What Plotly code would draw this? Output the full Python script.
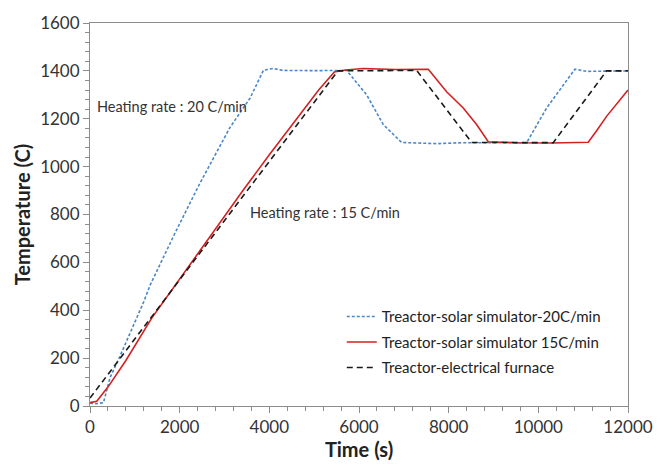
import plotly.graph_objects as go

# Solar simulator run at 20 C/min
t_solar20 = [0, 150, 300, 450, 650, 1200, 1340, 1900, 2450, 3120, 3570, 3870, 4090, 4300,
             5000, 5725, 6170, 6540, 6950, 7300, 7730, 8300, 9000, 9740, 10185, 10600,
             10816, 11076, 11500, 12000]
T_solar20 = [12, 10, 14, 120, 200, 436, 505, 724, 930, 1163, 1286, 1403, 1410, 1402,
             1401, 1402, 1300, 1176, 1101, 1098, 1096, 1100, 1100, 1100, 1245, 1350,
             1407, 1398, 1400, 1400]

# Solar simulator run at 15 C/min
t_solar15 = [0, 150, 400, 800, 1376, 2300, 3419, 4000, 4609, 5100, 5450, 5700, 6090, 6800,
             7545, 7954, 8325, 8623, 8883, 9500, 10300, 11113, 11300, 11522, 12000]
T_solar15 = [14, 20, 79, 190, 367, 610, 902, 1050, 1200, 1320, 1395, 1404, 1410, 1406,
             1407, 1313, 1245, 1176, 1104, 1100, 1099, 1102, 1150, 1210, 1320]

# Electrical furnace reference run
t_furnace = [0, 5530, 7286, 8512, 10333, 11522, 12000]
T_furnace = [33, 1400, 1402, 1101, 1100, 1400, 1400]

fig = go.Figure()
fig.add_trace(go.Scatter(x=t_solar20, y=T_solar20, mode="lines",
                         name="Treactor-solar simulator-20C/min", legendgroup="a",
                         line=dict(color="#4a86c8", width=1.6, dash="3px,2px")))
fig.add_trace(go.Scatter(x=t_solar15, y=T_solar15, mode="lines",
                         name="Treactor-solar simulator 15C/min", legendgroup="b",
                         line=dict(color="#d42020", width=1.6)))
fig.add_trace(go.Scatter(x=t_furnace, y=T_furnace, mode="lines",
                         name="Treactor-electrical furnace", legendgroup="c",
                         line=dict(color="#1a1a1a", width=1.6, dash="6px,4px")))

fig.add_annotation(x=112, y=1250, text="Heating rate : 20 C/min", showarrow=False,
                   xanchor="left", yanchor="middle",
                   font=dict(family="Lato", size=14.5, color="#333333"))
fig.add_annotation(x=3523, y=810, text="Heating rate : 15 C/min", showarrow=False,
                   xanchor="left", yanchor="middle",
                   font=dict(family="Lato", size=14.5, color="#333333"))

axis_common = dict(showgrid=False, zeroline=False, showline=True, linecolor="#8c8c8c",
                   linewidth=1, mirror=True, ticks="outside", ticklen=6,
                   tickcolor="#8c8c8c", tickfont=dict(family="Lato", size=17, color="#333333"))

fig.update_xaxes(range=[0, 12000], dtick=2000, tickformat="d",
                 minor=dict(dtick=400, ticks="outside", ticklen=4, tickcolor="#8c8c8c"),
                 title=dict(text="<b>Time (s)</b>", font=dict(family="Lato", size=20, color="#222222"),
                            standoff=4),
                 **axis_common)
fig.update_yaxes(range=[0, 1600], dtick=200,
                 minor=dict(dtick=40, ticks="outside", ticklen=4, tickcolor="#8c8c8c"),
                 title=dict(text="<b>Temperature (C)</b>", font=dict(family="Lato", size=20, color="#222222"),
                            standoff=4),
                 **axis_common)

fig.update_layout(
    width=665, height=467,
    margin=dict(l=90, r=37, t=17, b=61),
    paper_bgcolor="white", plot_bgcolor="white",
    legend=dict(x=0.468, y=0.276, xanchor="left", yanchor="top",
                traceorder="grouped", tracegroupgap=3,
                bgcolor="rgba(0,0,0,0)", font=dict(family="Lato", size=15, color="#222222")),
)

fig.write_html("out.html")
